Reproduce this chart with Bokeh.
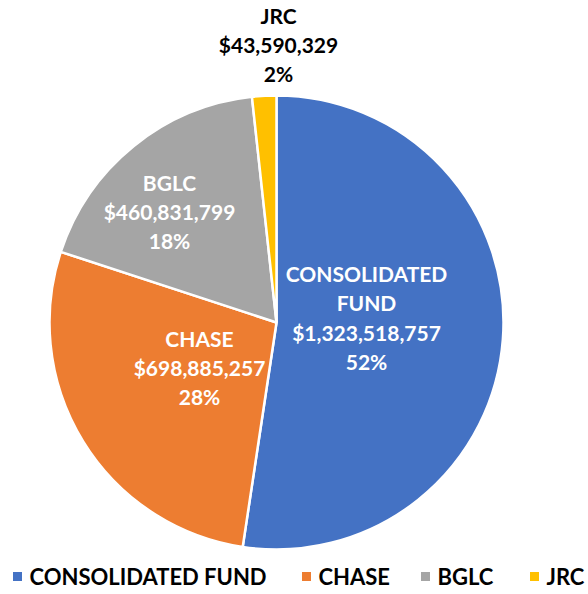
import math
from bokeh.plotting import figure
from bokeh.models import Range1d, ColumnDataSource
from bokeh.core.properties import value
from bokeh.embed import file_html
from bokeh.resources import INLINE

categories = ["CONSOLIDATED FUND", "CHASE", "BGLC", "JRC"]
amounts = [1323518757, 698885257, 460831799, 43590329]
percents = ["52%", "28%", "18%", "2%"]
label_names = ["CONSOLIDATED\nFUND", "CHASE", "BGLC", "JRC"]
colors = ["#4472C4", "#ED7D31", "#A5A5A5", "#FFC000"]

W, H = 588, 594
p = figure(width=W, height=H, output_backend="svg", toolbar_location=None,
           x_range=Range1d(0, W), y_range=Range1d(0, H))
p.axis.visible = False
p.grid.visible = False
p.outline_line_color = None
p.min_border = 0
p.background_fill_color = "white"

def py(page_y):
    return H - page_y

def px(page_x):
    return page_x

cx, cy, r = px(276), py(322), 227
total = sum(amounts)
starts, ends = [], []
cum = 0.0
for a in amounts:
    s = math.pi / 2 - 2 * math.pi * cum
    cum += a / total
    e = math.pi / 2 - 2 * math.pi * cum
    starts.append(s)
    ends.append(e)

src = ColumnDataSource(dict(start=starts, end=ends, color=colors))
p.wedge(x=cx, y=cy, radius=r, start_angle="start", end_angle="end",
        direction="clock", fill_color="color", line_color="white",
        line_width=2.5, source=src)

# data labels
label_pos = [(366, 317), (199, 367), (169, 211), (278, 44)]
label_colors = ["white", "white", "white", "black"]
texts = []
for name, amt, pct in zip(label_names, amounts, percents):
    texts.append(f"{name}\n${amt:,}\n{pct}")
lsrc = ColumnDataSource(dict(
    x=[px(a) for a, b in label_pos], y=[py(b) for a, b in label_pos],
    text=texts, color=label_colors))
p.text(x="x", y="y", text="text", text_color="color", source=lsrc,
       text_align="center", text_baseline="middle",
       text_font=value("Lato"), text_font_style="bold",
       text_font_size="21px", text_line_height=1.17)

# legend
leg_sq_x = [17, 306, 425, 534]
leg_y = 576
p.scatter(x=[px(v) for v in leg_sq_x], y=[py(leg_y)] * 4, marker="square",
          size=9, fill_color=colors, line_color=None)
p.text(x=[px(v + 12) for v in leg_sq_x], y=[py(leg_y)] * 4, text=categories,
       text_color="black", text_align="left", text_baseline="middle",
       text_font=value("Lato"), text_font_style="bold", text_font_size="22px")

open("out.html", "w").write(file_html(p, INLINE))
